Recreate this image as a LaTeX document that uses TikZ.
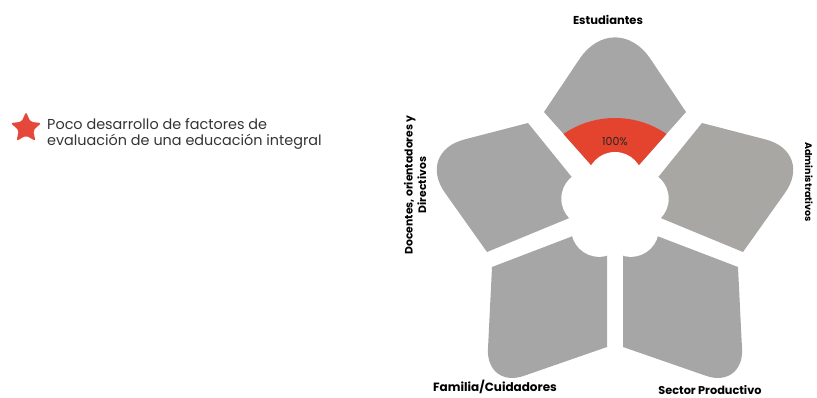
\documentclass[tikz,border=0pt]{standalone}
\usepackage{fontspec}
\setmainfont{Poppins}
\usetikzlibrary{calc,shapes.geometric}
\definecolor{petalgray}{HTML}{A6A6A6}
\definecolor{petalwarm}{HTML}{A9A7A4}
\definecolor{redzone}{HTML}{E4432D}
\definecolor{starred}{HTML}{E5483A}
\newcommand{\petalpath}[6]{(#1) -- (#2) -- ($(#3)!#5!(#2)$) .. controls ($(#3)!#6!(#2)$) and ($(#3)!#6!(#4)$) .. ($(#3)!#5!(#4)$) -- (#4) -- cycle}
\tikzset{
  lbl/.style={font=\bfseries, text=black, inner sep=0pt},
  pct/.style={font=\fontsize{11}{13}\selectfont, text=black!85, inner sep=0pt},
  legtxt/.style={font=\fontsize{14.4}{16.5}\selectfont, text=black!80, inner sep=0pt, align=left, anchor=west}
}
\begin{document}
\begin{tikzpicture}[x=1pt,y=-1pt]
\useasboundingbox (0,0) rectangle (817,398);
\coordinate (O) at (615,207);
% top petal
\coordinate (tI) at (615,192); \coordinate (tA) at (544,112);
\coordinate (tT) at (615,6);   \coordinate (tB) at (686,112);
% left petal
\coordinate (lI) at (596,207); \coordinate (lA) at (528,123);
\coordinate (lT) at (416,152); \coordinate (lB) at (487,252);
% right petal
\coordinate (rI) at (634,207); \coordinate (rA) at (702,123);
\coordinate (rT) at (814,152); \coordinate (rB) at (743,252);
% bottom-left petal
\coordinate (blI) at (607,223); \coordinate (blA) at (492,267);
\coordinate (blT) at (486,389); \coordinate (blB) at (607,347);
% bottom-right petal
\coordinate (brI) at (623,223); \coordinate (brA) at (738,267);
\coordinate (brT) at (744,389); \coordinate (brB) at (623,347);

\fill[petalgray] \petalpath{tI}{tA}{tT}{tB}{64pt}{29pt};
\fill[petalgray] \petalpath{lI}{lA}{lT}{lB}{50pt}{22pt};
\fill[petalwarm] \petalpath{rI}{rA}{rT}{rB}{50pt}{22pt};
\fill[petalgray] \petalpath{blI}{blA}{blT}{blB}{40pt}{18pt};
\fill[petalgray] \petalpath{brI}{brA}{brT}{brB}{40pt}{18pt};

\begin{scope}
  \clip \petalpath{tI}{tA}{tT}{tB}{64pt}{29pt};
  \fill[redzone] (615,209) circle[radius=91pt];
\end{scope}

% central hole
\fill[white] (O) circle[radius=38pt];
\foreach \a in {90,162,234,306,18}
  \fill[white] ($(O)+(\a:27pt)$) circle[radius=28pt];

\node[pct] (pct) at (615,142) {100\%};

\node[lbl, font=\bfseries\fontsize{11.5}{13}\selectfont] (estud) at (608,20) {Estudiantes};
\node[lbl, font=\bfseries\fontsize{9.5}{11}\selectfont, rotate=-90] (admin) at (809,182) {Administrativos};
\node[lbl, font=\bfseries\fontsize{10.8}{13.5}\selectfont, rotate=90, align=center] (docen) at (415,185) {Docentes, orientadores y\\Directivos};
\node[lbl, font=\bfseries\fontsize{12}{14}\selectfont] (fam) at (495,387) {Familia/Cuidadores};
\node[lbl, font=\bfseries\fontsize{11.3}{13}\selectfont] (sector) at (710,390) {Sector Productivo};

\node[star, star points=5, star point ratio=2.1, fill=starred, minimum size=32pt, inner sep=0pt, rounded corners=2pt] (legstar) at (26,128) {};
\node[legtxt] (legtext) at (47,134) {Poco desarrollo de factores de\\evaluación de una educación integral};
\end{tikzpicture}
\end{document}
